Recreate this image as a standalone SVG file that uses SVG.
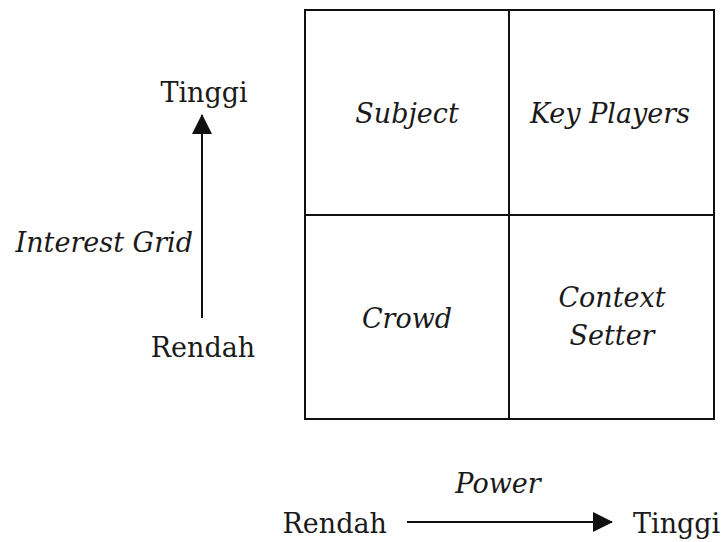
<svg xmlns="http://www.w3.org/2000/svg" width="727" height="542" viewBox="0 0 727 542">
<style>
text{font-family:"DejaVu Serif","Liberation Serif",serif;font-size:27px;fill:#1a1a1a}
.i{font-style:italic}
.m{text-anchor:middle}
.ln{stroke:#111;stroke-width:2;fill:none}
</style>
<defs>
<marker id="ah2" viewBox="0 0 20 20" refX="19" refY="10" markerWidth="20" markerHeight="20" orient="auto" markerUnits="userSpaceOnUse">
<path d="M0,0 L20,10 L0,20 z" fill="#111"/>
</marker>
</defs>
<rect width="727" height="542" fill="#fff"/>
<g id="grid">
<rect x="305" y="10" width="409" height="409" class="ln"/>
<line x1="509" y1="10" x2="509" y2="419" class="ln"/>
<line x1="305" y1="215" x2="714" y2="215" class="ln"/>
</g>
<g id="subject"><text x="407" y="123" class="i m">Subject</text></g>
<g id="keyplayers"><text x="610" y="123" class="i m">Key Players</text></g>
<g id="crowd"><text x="407" y="328" class="i m">Crowd</text></g>
<g id="contextsetter"><text x="612" y="307" class="i m">Context</text><text x="612" y="345" class="i m">Setter</text></g>
<g id="connectors">
<line x1="202" y1="318" x2="202" y2="115" class="ln" marker-end="url(#ah2)"/>
<line x1="407" y1="522" x2="612" y2="522" class="ln" marker-end="url(#ah2)"/>
</g>
<g id="yaxis">
<text x="204" y="102" class="m">Tinggi</text>
<text x="193" y="252" class="i" text-anchor="end">Interest Grid</text>
<text x="203" y="357" class="m">Rendah</text>
</g>
<g id="xaxis">
<text x="498" y="493" class="i m">Power</text>
<text x="387" y="533" text-anchor="end">Rendah</text>
<text x="633" y="533">Tinggi</text>
</g>
</svg>
